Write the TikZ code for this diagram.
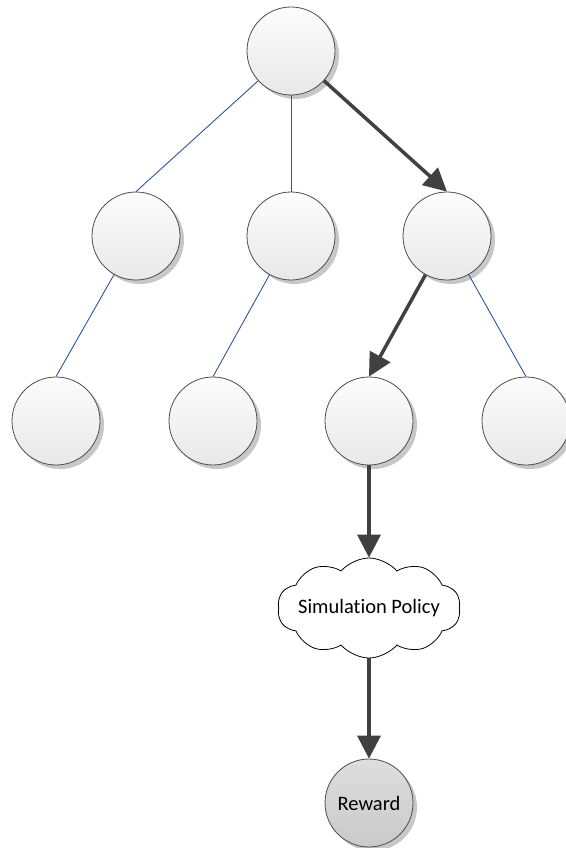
\documentclass[tikz,border=0pt]{standalone}
\usepackage{fontspec}
\setmainfont{Carlito}[Ligatures=NoCommon]
\usetikzlibrary{arrows.meta, shapes.symbols, shadows}
\definecolor{treeline}{RGB}{47,85,151}
\definecolor{pathline}{RGB}{64,64,64}

\begin{document}
\begin{tikzpicture}[x=1pt,y=-1pt,
  state/.style={circle,draw=black!70,line width=0.8pt,minimum size=88pt,inner sep=0pt,
    top color=white!99!black,bottom color=white!91!black,
    drop shadow={shadow xshift=4pt,shadow yshift=-4pt,fill=black!22,opacity=1}},
  rewardstate/.style={state,top color=black!13,bottom color=black!21,font=\fontsize{20.5}{24}\selectfont},
  policy/.style={cloud,draw=black,line width=0.8pt,fill=white,cloud puffs=10,cloud puff arc=100,
    aspect=2.2,minimum width=183pt,minimum height=100pt,inner sep=0pt,font=\fontsize{20.5}{24}\selectfont},
  treeedge/.style={draw=treeline,line width=0.9pt},
  pathedge/.style={draw=pathline,line width=3.5pt,-{Triangle[width=23pt,length=23pt]}}]
\useasboundingbox (0,0) rectangle (565,848);

\node[state] (root) at (291,51){};
\node[state] (a) at (136,236){};\node[state] (b) at (291,236){};\node[state] (c) at (447,236){};
\node[state] (a1) at (56,421){};\node[state] (b1) at (213,421){};\node[state] (c1) at (369,421){};\node[state] (c2) at (526,421){};
\node[policy] (sim) at (369,608){\makebox[0pt]{Simulation Policy}};
\node[rewardstate] (reward) at (369,803){Reward};

\draw[treeedge] (root) -- (a.north);\draw[treeedge] (root) -- (b.north);
\draw[treeedge] (a) -- (a1.north);\draw[treeedge] (b) -- (b1.north);\draw[treeedge] (c) -- (c2.north);

\draw[pathedge] (root) -- (c.north);\draw[pathedge] (c) -- (c1.north);
\draw[pathedge] (c1) -- (sim);\draw[pathedge] (sim) -- (reward);
\end{tikzpicture}
\end{document}
